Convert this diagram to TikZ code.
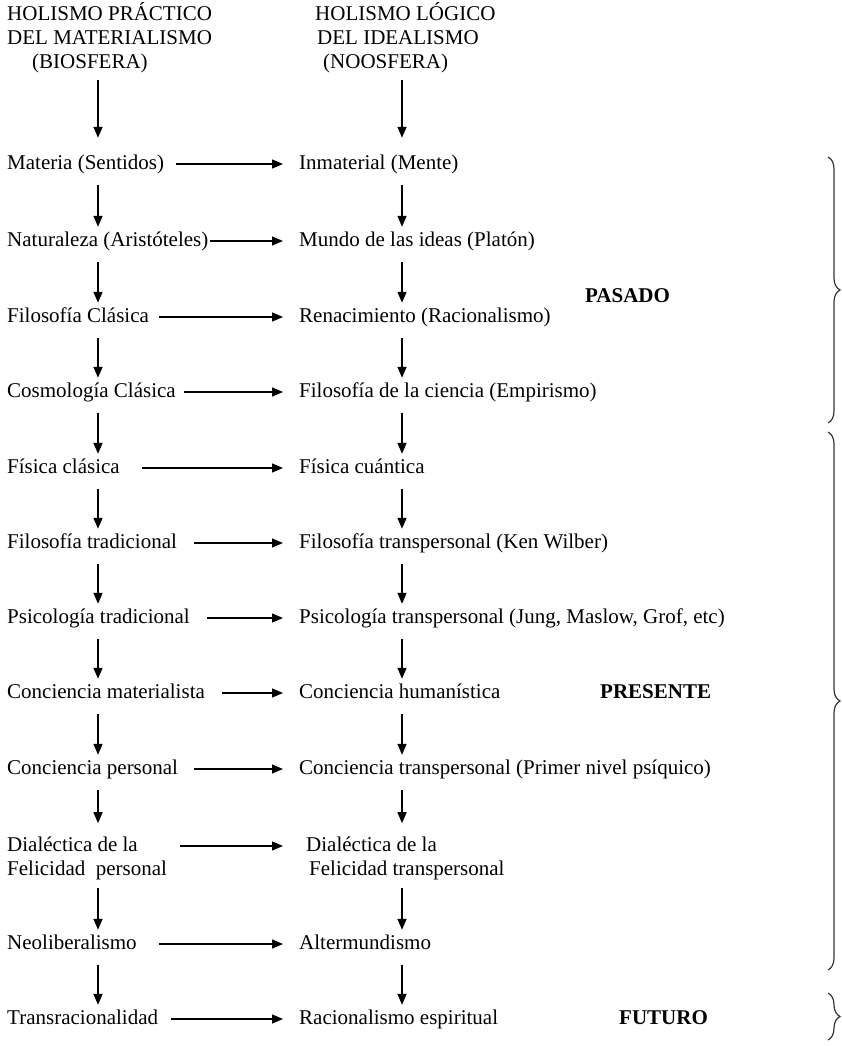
\documentclass[tikz,border=0pt]{standalone}
\usepackage{fontspec}
\setmainfont{Liberation Serif}
\usetikzlibrary{arrows.meta, calc, decorations.pathreplacing}

\tikzset{
  txt/.style={anchor=base west, inner sep=0pt, text height=15pt, text depth=5pt,
    font=\fontsize{21}{24}\selectfont},
  txtb/.style={anchor=base west, inner sep=0pt, align=left,
    font=\fontsize{21}{24}\selectfont},
  era/.style={txt, font=\fontsize{21}{24}\selectfont\bfseries},
  harr/.style={-{Triangle[length=11pt,width=9pt]}, line width=1.4pt},
  varr/.style={harr, shorten <=11pt, shorten >=4pt},
  brc/.style={decorate, decoration={brace, amplitude=12pt}, line width=1.2pt, black!80}
}

\begin{document}
\begin{tikzpicture}[x=1pt, y=-1pt]

      \useasboundingbox (0,0) rectangle (841,1046);

      \coordinate (cl) at (98,0);
      \coordinate (cr) at (402,0);

      % base of a two-line node is its last line
      \node[txtb] (hl) at (7,69) {HOLISMO PRÁCTICO\\DEL MATERIALISMO\\\hspace*{25pt}(BIOSFERA)};
      \node[txtb] (hr) at (315,69) {HOLISMO LÓGICO\\\hspace*{2pt}DEL IDEALISMO\\\hspace*{8pt}(NOOSFERA)};

      \node[txt] (l1) at (7,169) {Materia (Sentidos)};
      \node[txt] (r1) at (299,169) {Inmaterial (Mente)};
      \node[txt] (l2) at (7,246) {Naturaleza (Aristóteles)};
      \node[txt] (r2) at (299,246) {Mundo de las ideas (Platón)};
      \node[txt] (l3) at (7,322) {Filosofía Clásica};
      \node[txt] (r3) at (299,322) {Renacimiento (Racionalismo)};
      \node[txt] (l4) at (7,397) {Cosmología Clásica};
      \node[txt] (r4) at (299,397) {Filosofía de la ciencia (Empirismo)};
      \node[txt] (l5) at (7,473) {Física clásica};
      \node[txt] (r5) at (299,473) {Física cuántica};
      \node[txt] (l6) at (7,548) {Filosofía tradicional};
      \node[txt] (r6) at (299,548) {Filosofía transpersonal (Ken Wilber)};
      \node[txt] (l7) at (7,623) {Psicología tradicional};
      \node[txt] (r7) at (299,623) {Psicología transpersonal (Jung, Maslow, Grof, etc)};
      \node[txt] (l8) at (7,698) {Conciencia materialista};
      \node[txt] (r8) at (299,698) {Conciencia humanística};
      \node[txt] (l9) at (7,774) {Conciencia personal};
      \node[txt] (r9) at (299,774) {Conciencia transpersonal (Primer nivel psíquico)};
      \node[txtb] (l10) at (7,875) {Dialéctica de la\\Felicidad\ \ personal};
      \node[txtb] (r10) at (306,875) {Dialéctica de la\\\hspace*{3pt}Felicidad transpersonal};
      \node[txt] (l11) at (7,949) {Neoliberalismo};
      \node[txt] (r11) at (299,949) {Altermundismo};
      \node[txt] (l12) at (7,1024) {Transracionalidad};
      \node[txt] (r12) at (299,1024) {Racionalismo espiritual};

      \node[era] (pasado) at (585,302) {PASADO};
      \node[era] (presente) at (600,698) {PRESENTE};
      \node[era] (futuro) at (619,1024) {FUTURO};

      % left to right
      \draw[harr] ([xshift=12pt]l1.east) -- ([xshift=-16pt]r1.west);
      \draw[harr] ([xshift=1pt]l2.east) -- ([xshift=-16pt]r2.west);
      \draw[harr] ([xshift=10pt]l3.east) -- ([xshift=-16pt]r3.west);
      \draw[harr] ([xshift=8pt]l4.east) -- ([xshift=-16pt]r4.west);
      \draw[harr] ([xshift=22pt]l5.east) -- ([xshift=-16pt]r5.west);
      \draw[harr] ([xshift=17pt]l6.east) -- ([xshift=-16pt]r6.west);
      \draw[harr] ([xshift=17pt]l7.east) -- ([xshift=-16pt]r7.west);
      \draw[harr] ([xshift=17pt]l8.east) -- ([xshift=-16pt]r8.west);
      \draw[harr] ([xshift=16pt]l9.east) -- ([xshift=-16pt]r9.west);
      \draw[harr] ([xshift=13pt,yshift=29pt]l10.base east) -- ([xshift=-23pt,yshift=29pt]r10.base west);
      \draw[harr] ([xshift=22pt]l11.east) -- ([xshift=-16pt]r11.west);
      \draw[harr] ([xshift=13pt]l12.east) -- ([xshift=-16pt]r12.west);

      % down the columns
      \draw[harr, shorten <=6pt, shorten >=16pt] (cl |- hl.south) -- (cl |- l1.north);
      \draw[harr, shorten <=6pt, shorten >=16pt] (cr |- hr.south) -- (cr |- r1.north);
      \draw[varr] (cl |- l1.south) -- (cl |- l2.north);
      \draw[varr] (cr |- r1.south) -- (cr |- r2.north);
      \draw[varr] (cl |- l2.south) -- (cl |- l3.north);
      \draw[varr] (cr |- r2.south) -- (cr |- r3.north);
      \draw[varr] (cl |- l3.south) -- (cl |- l4.north);
      \draw[varr] (cr |- r3.south) -- (cr |- r4.north);
      \draw[varr] (cl |- l4.south) -- (cl |- l5.north);
      \draw[varr] (cr |- r4.south) -- (cr |- r5.north);
      \draw[varr] (cl |- l5.south) -- (cl |- l6.north);
      \draw[varr] (cr |- r5.south) -- (cr |- r6.north);
      \draw[varr] (cl |- l6.south) -- (cl |- l7.north);
      \draw[varr] (cr |- r6.south) -- (cr |- r7.north);
      \draw[varr] (cl |- l7.south) -- (cl |- l8.north);
      \draw[varr] (cr |- r7.south) -- (cr |- r8.north);
      \draw[varr] (cl |- l8.south) -- (cl |- l9.north);
      \draw[varr] (cr |- r8.south) -- (cr |- r9.north);
      \draw[varr, shorten >=13pt] (cl |- l9.south) -- (cl |- l10.north);
      \draw[varr, shorten >=13pt] (cr |- r9.south) -- (cr |- r10.north);
      \draw[varr, shorten <=8pt] (cl |- l10.south) -- (cl |- l11.north);
      \draw[varr, shorten <=8pt] (cr |- r10.south) -- (cr |- r11.north);
      \draw[varr] (cl |- l11.south) -- (cl |- l12.north);
      \draw[varr] (cr |- r11.south) -- (cr |- r12.north);

      % eras
      \draw[brc] (828,157) -- (828,423);
      \draw[brc] (828,432) -- (828,970);
      \draw[brc] (828,993) -- (828,1040);

    \end{tikzpicture}
\end{document}
